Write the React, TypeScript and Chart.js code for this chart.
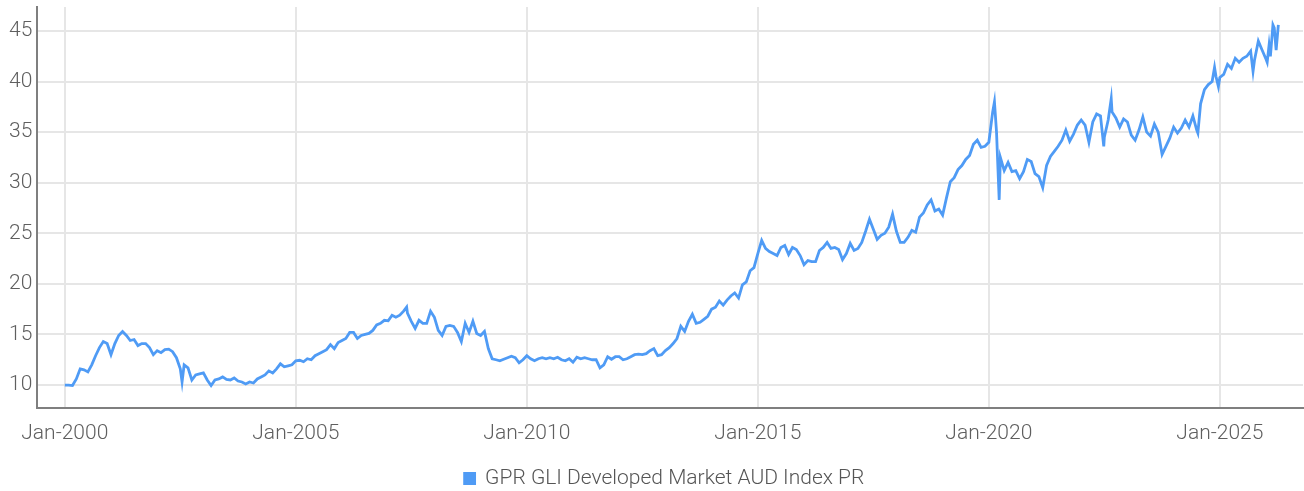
import React, { useEffect, useRef } from "react";
import { Chart, registerables } from "chart.js";

Chart.register(...registerables);

const seriesName = "GPR GLI Developed Market AUD Index PR";
const xTickYears = [2000, 2005, 2010, 2015, 2020, 2025];
const yTicks = [10, 15, 20, 25, 30, 35, 40, 45];

const dates: string[] = [
  "2000-01-01","2000-02-01","2000-03-01","2000-04-01","2000-05-01","2000-06-01","2000-07-01","2000-08-01","2000-09-01","2000-10-01","2000-11-01","2000-12-01",
  "2001-01-01","2001-02-01","2001-03-01","2001-04-01","2001-05-01","2001-06-01","2001-07-01","2001-08-01","2001-09-01","2001-10-01","2001-11-01","2001-12-01",
  "2002-01-01","2002-02-01","2002-03-01","2002-04-01","2002-05-01","2002-06-01","2002-07-01","2002-07-15","2002-08-01","2002-09-01","2002-10-01","2002-11-01","2002-12-01",
  "2003-01-01","2003-02-01","2003-03-01","2003-04-01","2003-05-01","2003-06-01","2003-07-01","2003-08-01","2003-09-01","2003-10-01","2003-11-01","2003-12-01",
  "2004-01-01","2004-02-01","2004-03-01","2004-04-01","2004-05-01","2004-06-01","2004-07-01","2004-08-01","2004-09-01","2004-10-01","2004-11-01","2004-12-01",
  "2005-01-01","2005-02-01","2005-03-01","2005-04-01","2005-05-01","2005-06-01","2005-07-01","2005-08-01","2005-09-01","2005-10-01","2005-11-01","2005-12-01",
  "2006-01-01","2006-02-01","2006-03-01","2006-04-01","2006-05-01","2006-06-01","2006-07-01","2006-08-01","2006-09-01","2006-10-01","2006-11-01","2006-12-01",
  "2007-01-01","2007-02-01","2007-03-01","2007-04-01","2007-05-01","2007-05-25","2007-06-01","2007-07-01","2007-08-01","2007-09-01","2007-10-01","2007-11-01","2007-12-01",
  "2008-01-01","2008-02-01","2008-03-01","2008-04-01","2008-05-01","2008-06-01","2008-07-01","2008-08-01","2008-09-01","2008-10-01","2008-11-01","2008-12-01",
  "2009-01-01","2009-02-01","2009-03-01","2009-04-01","2009-05-01","2009-06-01","2009-07-01","2009-08-01","2009-09-01","2009-10-01","2009-11-01","2009-12-01",
  "2010-01-01","2010-02-01","2010-03-01","2010-04-01","2010-05-01","2010-06-01","2010-07-01","2010-08-01","2010-09-01","2010-10-01","2010-11-01","2010-12-01",
  "2011-01-01","2011-02-01","2011-03-01","2011-04-01","2011-05-01","2011-06-01","2011-07-01","2011-08-01","2011-09-01","2011-10-01","2011-11-01","2011-12-01",
  "2012-01-01","2012-02-01","2012-03-01","2012-04-01","2012-05-01","2012-06-01","2012-07-01","2012-08-01","2012-09-01","2012-10-01","2012-11-01","2012-12-01",
  "2013-01-01","2013-02-01","2013-03-01","2013-04-01","2013-05-01","2013-06-01","2013-07-01","2013-08-01","2013-09-01","2013-10-01","2013-11-01","2013-12-01",
  "2014-01-01","2014-02-01","2014-03-01","2014-04-01","2014-05-01","2014-06-01","2014-07-01","2014-08-01","2014-09-01","2014-10-01","2014-11-01","2014-12-01",
  "2015-01-01","2015-02-01","2015-03-01","2015-04-01","2015-05-01","2015-06-01","2015-07-01","2015-08-01","2015-09-01","2015-10-01","2015-11-01","2015-12-01",
  "2016-01-01","2016-02-01","2016-03-01","2016-04-01","2016-05-01","2016-06-01","2016-07-01","2016-08-01","2016-09-01","2016-10-01","2016-11-01","2016-12-01",
  "2017-01-01","2017-02-01","2017-03-01","2017-04-01","2017-05-01","2017-06-01","2017-07-01","2017-08-01","2017-09-01","2017-10-01","2017-11-01","2017-12-01",
  "2018-01-01","2018-02-01","2018-03-01","2018-04-01","2018-05-01","2018-06-01","2018-07-01","2018-08-01","2018-09-01","2018-10-01","2018-11-01","2018-12-01",
  "2019-01-01","2019-02-01","2019-03-01","2019-04-01","2019-05-01","2019-06-01","2019-07-01","2019-08-01","2019-09-01","2019-10-01","2019-11-01","2019-12-01",
  "2020-01-01","2020-02-01","2020-02-15","2020-03-01","2020-03-22","2020-04-01","2020-05-01","2020-06-01","2020-07-01","2020-08-01","2020-09-01","2020-10-01","2020-11-01","2020-12-01",
  "2021-01-01","2021-02-01","2021-03-01","2021-04-01","2021-05-01","2021-06-01","2021-07-01","2021-08-01","2021-09-01","2021-10-01","2021-11-01","2021-12-01",
  "2022-01-01","2022-02-01","2022-03-01","2022-04-01","2022-05-01","2022-06-01","2022-06-27","2022-07-01","2022-08-01","2022-08-25","2022-09-01","2022-10-01","2022-11-01","2022-12-01",
  "2023-01-01","2023-02-01","2023-03-01","2023-04-01","2023-05-01","2023-06-01","2023-07-01","2023-08-01","2023-09-01","2023-10-01","2023-11-01","2023-12-01",
  "2024-01-01","2024-02-01","2024-03-01","2024-04-01","2024-05-01","2024-06-01","2024-07-01","2024-07-10","2024-08-01","2024-09-01","2024-10-01","2024-11-01","2024-11-20","2024-12-01","2024-12-20",
  "2025-01-01","2025-02-01","2025-03-01","2025-04-01","2025-05-01","2025-06-01","2025-07-01","2025-08-01","2025-09-01","2025-09-20","2025-10-01","2025-11-01","2025-12-01",
  "2026-01-01","2026-01-10","2026-01-25","2026-02-05","2026-02-25","2026-03-05","2026-03-20","2026-04-07",
];

const values: number[] = [
  10.0, 10.0, 9.95, 10.6, 11.6, 11.5, 11.3, 12.0, 12.9, 13.7, 14.3, 14.1,
  13.0, 14.1, 14.9, 15.3, 14.9, 14.4, 14.5, 13.9, 14.1, 14.1, 13.7, 13.0,
  13.4, 13.2, 13.5, 13.55, 13.3, 12.7, 11.6, 10.3, 12.0, 11.7, 10.5, 11.0, 11.1,
  11.2, 10.5, 9.95, 10.5, 10.6, 10.8, 10.55, 10.5, 10.7, 10.4, 10.3, 10.1,
  10.3, 10.2, 10.6, 10.8, 11.0, 11.4, 11.2, 11.6, 12.1, 11.8, 11.9, 12.0,
  12.4, 12.45, 12.3, 12.6, 12.5, 12.9, 13.1, 13.3, 13.5, 14.0, 13.6, 14.2,
  14.4, 14.6, 15.2, 15.2, 14.6, 14.9, 15.0, 15.1, 15.4, 15.95, 16.1, 16.4,
  16.35, 16.9, 16.7, 16.9, 17.3, 17.7, 17.1, 16.3, 15.6, 16.4, 16.1, 16.1, 17.3,
  16.7, 15.4, 14.9, 15.8, 15.9, 15.8, 15.2, 14.3, 16.1, 15.2, 16.3, 15.1,
  14.9, 15.3, 13.6, 12.6, 12.5, 12.4, 12.55, 12.7, 12.85, 12.7, 12.2, 12.5,
  12.9, 12.6, 12.4, 12.6, 12.7, 12.6, 12.7, 12.6, 12.75, 12.5, 12.4, 12.6,
  12.25, 12.75, 12.6, 12.7, 12.6, 12.5, 12.5, 11.7, 12.0, 12.8, 12.55, 12.8,
  12.8, 12.5, 12.6, 12.8, 13.0, 13.05, 13.0, 13.1, 13.4, 13.6, 12.9, 13.0,
  13.4, 13.7, 14.1, 14.6, 15.8, 15.3, 16.3, 17.0, 16.1, 16.2, 16.5, 16.8,
  17.5, 17.7, 18.3, 17.9, 18.4, 18.8, 19.1, 18.6, 19.9, 20.2, 21.3, 21.6,
  23.0, 24.3, 23.5, 23.2, 23.0, 22.8, 23.6, 23.8, 22.9, 23.6, 23.4, 22.8,
  21.9, 22.3, 22.2, 22.2, 23.3, 23.6, 24.1, 23.5, 23.6, 23.4, 22.4, 23.0,
  24.0, 23.3, 23.5, 24.1, 25.2, 26.4, 25.4, 24.4, 24.8, 25.0, 25.6, 26.9,
  25.2, 24.1, 24.1, 24.6, 25.3, 25.1, 26.6, 27.0, 27.8, 28.3, 27.2, 27.4,
  26.8, 28.5, 30.1, 30.5, 31.3, 31.7, 32.3, 32.7, 33.8, 34.2, 33.5, 33.6,
  34.0, 37.0, 38.0, 35.0, 28.3, 32.5, 31.2, 32.0, 31.1, 31.2, 30.4, 31.1, 32.3, 32.1,
  30.9, 30.6, 29.5, 31.7, 32.6, 33.1, 33.6, 34.2, 35.2, 34.1, 34.8, 35.7,
  36.2, 35.7, 34.0, 36.0, 36.8, 36.6, 33.6, 34.5, 36.2, 38.3, 37.0, 36.4, 35.5, 36.3,
  36.0, 34.7, 34.2, 35.2, 36.5, 35.0, 34.6, 35.8, 35.0, 32.8, 33.6, 34.4,
  35.5, 34.9, 35.4, 36.2, 35.5, 36.6, 35.2, 34.9, 37.8, 39.2, 39.7, 40.0, 41.4, 40.5, 39.5,
  40.4, 40.7, 41.7, 41.3, 42.3, 41.9, 42.3, 42.5, 43.0, 41.0, 42.1, 44.0, 43.1,
  42.2, 41.9, 43.6, 42.5, 45.6, 45.3, 43.1, 45.6,
];

const FONT = "Roboto, 'Liberation Sans', sans-serif";

function toYear(d: string): number {
  const [y, m, day] = d.split("-").map(Number);
  return y + (m - 1) / 12 + (day - 1) / 365;
}

const legendShift = {
  id: "legendShift",
  afterLayout(chart: any) {
    if (chart.legend) {
      chart.legend.left += 11;
      chart.legend.right += 11;
      chart.legend.top += 5;
      chart.legend.bottom += 5;
    }
  },
};

export default function App() {
  const ref = useRef<HTMLCanvasElement | null>(null);
  useEffect(() => {
    document.body.style.margin = "0";
    const canvas = ref.current;
    if (!canvas) return;
    const points = dates.map((d, i) => ({ x: toYear(d), y: values[i] }));
    const chart = new Chart(canvas, {
      type: "line",
      data: {
        datasets: [
          {
            label: seriesName,
            data: points,
            borderColor: "#4f9bf5",
            backgroundColor: "#4f9bf5",
            borderWidth: 2.8,
            pointRadius: 0,
            tension: 0,
          },
        ],
      },
      plugins: [legendShift],
      options: {
        animation: false,
        responsive: true,
        maintainAspectRatio: false,
        layout: { padding: { left: 4, top: 7, right: 1, bottom: -3 } },
        plugins: {
          tooltip: { enabled: false },
          legend: {
            position: "bottom",
            labels: {
              boxWidth: 10,
              boxHeight: 10,
              padding: 0,
              color: "#555555",
              font: { family: FONT, size: 21, weight: "300", lineHeight: 1 },
            },
          },
        },
        scales: {
          x: {
            type: "linear",
            min: 1999.405,
            max: 2026.8,
            afterBuildTicks: (axis: any) => {
              axis.ticks = xTickYears.map((v) => ({ value: v }));
            },
            afterFit: (scale: any) => {
              scale.height = 55;
              scale.paddingLeft = 0;
              scale.paddingRight = 0;
            },
            ticks: {
              includeBounds: false,
              autoSkip: false,
              maxRotation: 0,
              padding: 13,
              color: "#5f5f5f",
              font: { family: FONT, size: 21, weight: "300" },
              callback: (v: any) => "Jan-" + v,
            },
            grid: { color: "#e6e6e6", lineWidth: 2, drawTicks: false },
            border: { color: "#7f7f7f", width: 2 },
          },
          y: {
            type: "linear",
            min: 7.73,
            max: 47.37,
            afterBuildTicks: (axis: any) => {
              axis.ticks = yTicks.map((v) => ({ value: v }));
            },
            afterFit: (scale: any) => {
              scale.paddingTop = 0;
              scale.paddingBottom = 0;
            },
            ticks: {
              includeBounds: false,
              padding: 5,
              color: "#5f5f5f",
              font: { family: FONT, size: 21, weight: "300" },
            },
            grid: { color: "#e6e6e6", lineWidth: 2, drawTicks: false },
            border: { color: "#7f7f7f", width: 2 },
          },
        },
      },
    });
    return () => chart.destroy();
  }, []);
  return (
    <div style={{ width: 1304, height: 491, position: "relative" }}>
      <canvas ref={ref} />
    </div>
  );
}
